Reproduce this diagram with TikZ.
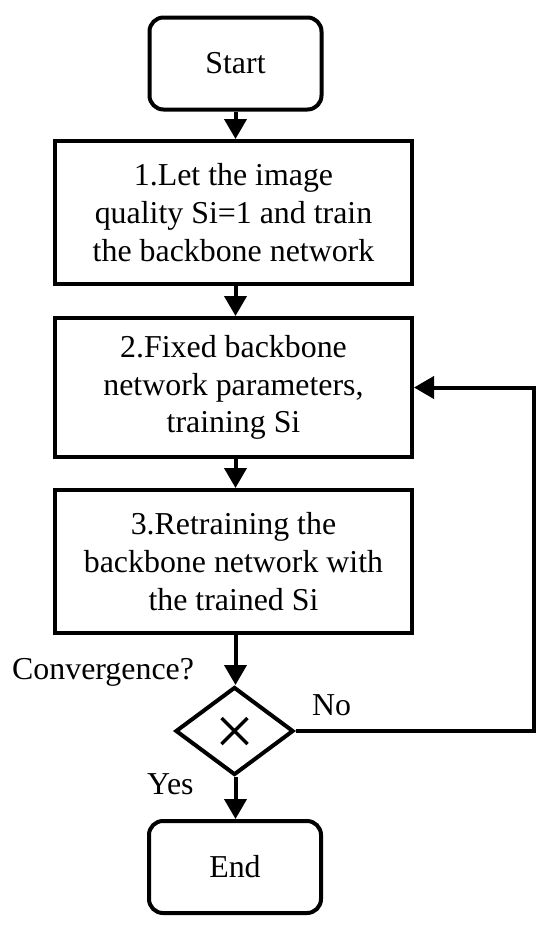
\documentclass[tikz,border=0pt]{standalone}
\usepackage{fontspec}
\setmainfont{Liberation Serif}
\usetikzlibrary{shapes.geometric,arrows.meta}
\begin{document}
\begin{tikzpicture}[x=1bp,y=-1bp,
  every node/.style={font=\fontsize{32}{38}\selectfont},
  box/.style={draw,line width=4bp,rectangle,minimum width=357bp,align=center,inner sep=0pt,fill=white},
  term/.style={draw,line width=4bp,rectangle,rounded corners=14bp,minimum width=172bp,minimum height=92bp,inner sep=0pt,fill=white},
  dec/.style={draw,line width=4bp,diamond,minimum width=118bp,minimum height=88bp,inner sep=0pt,fill=white,aspect=1.34},
  conn/.style={line width=4bp,-{Triangle[length=20bp,width=22bp]}},
  lbl/.style={inner sep=0pt,anchor=base west}]
\useasboundingbox (0,0) rectangle (550,934);
\node[term] (start) at (235.5,63.5) {Start};
\node[box,minimum height=143bp] (b1) at (233.5,212.5) {1.Let the image\\quality Si=1 and train\\the backbone network};
\node[box,minimum height=139bp] (b2) at (233.5,387.5) {2.Fixed backbone\\network parameters,\\training Si};
\node[box,minimum height=143bp] (b3) at (233.5,561.5) {3.Retraining the\\backbone network with\\the trained Si};
\node[dec] (d) at (234.5,731) {};
\draw[line width=3.5bp] ([xshift=-13bp,yshift=-13bp]d.center) -- ([xshift=13bp,yshift=13bp]d.center)
  ([xshift=-13bp,yshift=13bp]d.center) -- ([xshift=13bp,yshift=-13bp]d.center);
\node[term] (end) at (235,867) {End};
\coordinate (r1) at (534,731);
\coordinate (r2) at (534,387.5);
\draw[conn] (start) -- (start|-b1.north);
\draw[conn] (b1.south-|start) -- (start|-b2.north);
\draw[conn] (b2.south-|start) -- (start|-b3.north);
\draw[conn] (b3.south-|start) -- (start|-d.north);
\draw[conn] (d.south-|start) -- (start|-end.north);
\draw[line width=4bp,-{Triangle[length=20bp,width=22bp]}] (d.east) -- (r1) -- (r2) -- (b2.east);
\node[lbl] (conv) at (12,679) {Convergence?};
\node[lbl] (no) at (312,715) {No};
\node[lbl] (yes) at (147,794) {Yes};
\end{tikzpicture}
\end{document}
